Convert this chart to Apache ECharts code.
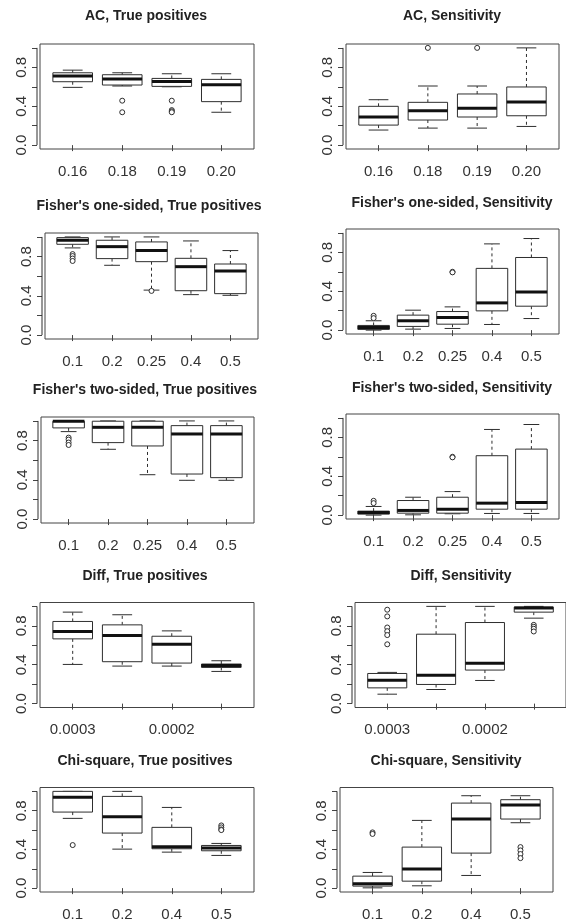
<!DOCTYPE html>
<html>
<head>
<meta charset="utf-8">
<title>True positives and sensitivity by threshold</title>
<script src="https://cdn.jsdelivr.net/npm/echarts@6/dist/echarts.min.js"></script>
<style>
  html, body { margin: 0; padding: 0; background: #ffffff; }
  #chart { width: 566px; height: 922px; }
</style>
</head>
<body>
<div id="chart"></div>
<script>
// ---- Category (threshold) labels ----
const acCats = ["0.16", "0.18", "0.19", "0.20"];
const fisherCats = ["0.1", "0.2", "0.25", "0.4", "0.5"];
const diffCats = ["0.0003", "", "0.0002", ""];
const chiCats = ["0.1", "0.2", "0.4", "0.5"];

// ---- Y tick values and labelled ticks ----
const yTicks = [0, 0.2, 0.4, 0.6, 0.8, 1.0];
const yLabelTicks = [0, 0.4, 0.8];

// ---- Box summaries per category: [min, Q1, median, Q3, max] ----
const acTpStats = [
  [0.594, 0.652, 0.710, 0.744, 0.771],
  [0.608, 0.618, 0.679, 0.724, 0.744],
  [0.600, 0.604, 0.655, 0.686, 0.734],
  [0.338, 0.447, 0.621, 0.676, 0.734]
];
const acTpOutliers = [[2, 0.457], [2, 0.338], [3, 0.457], [3, 0.360], [3, 0.348], [3, 0.338]];

const acSensStats = [
  [0.155, 0.206, 0.289, 0.399, 0.467],
  [0.175, 0.258, 0.354, 0.440, 0.608],
  [0.175, 0.289, 0.378, 0.526, 0.608],
  [0.192, 0.302, 0.443, 0.598, 1.000]
];
const acSensOutliers = [[2, 1.0], [3, 1.0]];

const f1TpStats = [
  [0.888, 0.925, 0.966, 0.993, 1.000],
  [0.711, 0.779, 0.901, 0.966, 1.000],
  [0.458, 0.748, 0.861, 0.949, 1.000],
  [0.412, 0.452, 0.697, 0.782, 0.959],
  [0.405, 0.422, 0.653, 0.724, 0.861]
];
const f1TpOutliers = [[1, 0.825], [1, 0.805], [1, 0.780], [1, 0.755], [3, 0.450]];

const f1SensStats = [
  [0.000, 0.007, 0.027, 0.048, 0.096],
  [0.010, 0.038, 0.096, 0.154, 0.205],
  [0.017, 0.061, 0.130, 0.191, 0.239],
  [0.058, 0.198, 0.280, 0.635, 0.887],
  [0.119, 0.246, 0.392, 0.747, 0.942]
];
const f1SensOutliers = [[1, 0.147], [1, 0.123], [3, 0.600], [3, 0.594]];

const f2TpStats = [
  [0.891, 0.929, 0.997, 0.997, 1.000],
  [0.711, 0.779, 0.935, 0.997, 1.000],
  [0.452, 0.745, 0.935, 0.997, 1.000],
  [0.395, 0.459, 0.867, 0.952, 1.000],
  [0.395, 0.422, 0.867, 0.952, 1.000]
];
const f2TpOutliers = [[1, 0.830], [1, 0.810], [1, 0.780], [1, 0.755]];

const f2SensStats = [
  [0.000, 0.010, 0.027, 0.041, 0.089],
  [0.003, 0.020, 0.048, 0.150, 0.184],
  [0.014, 0.020, 0.061, 0.184, 0.242],
  [0.017, 0.061, 0.123, 0.611, 0.881],
  [0.017, 0.061, 0.130, 0.679, 0.932]
];
const f2SensOutliers = [[1, 0.147], [1, 0.123], [3, 0.600], [3, 0.594]];

const diffTpStats = [
  [0.403, 0.666, 0.741, 0.845, 0.941],
  [0.386, 0.431, 0.700, 0.810, 0.914],
  [0.386, 0.417, 0.610, 0.693, 0.748],
  [0.331, 0.372, 0.393, 0.407, 0.441]
];
const diffTpOutliers = [];

const diffSensStats = [
  [0.097, 0.162, 0.241, 0.310, 0.321],
  [0.145, 0.197, 0.293, 0.714, 1.000],
  [0.238, 0.345, 0.414, 0.834, 1.000],
  [0.879, 0.941, 0.983, 0.993, 1.000]
];
const diffSensOutliers = [
  [1, 0.966], [1, 0.897], [1, 0.783], [1, 0.745], [1, 0.705], [1, 0.610],
  [4, 0.810], [4, 0.790], [4, 0.770], [4, 0.742]
];

const chiTpStats = [
  [0.721, 0.786, 0.938, 1.000, 1.000],
  [0.403, 0.569, 0.738, 0.948, 1.000],
  [0.372, 0.407, 0.428, 0.628, 0.834],
  [0.338, 0.386, 0.414, 0.441, 0.462]
];
const chiTpOutliers = [[1, 0.445], [4, 0.648], [4, 0.628], [4, 0.607], [4, 0.600]];

const chiSensStats = [
  [0.003, 0.021, 0.045, 0.124, 0.162],
  [0.024, 0.072, 0.197, 0.424, 0.700],
  [0.131, 0.362, 0.714, 0.879, 0.955],
  [0.676, 0.714, 0.859, 0.914, 0.955]
];
const chiSensOutliers = [[1, 0.576], [1, 0.560], [4, 0.424], [4, 0.390], [4, 0.352], [4, 0.310]];

// ---- Panels ----
const panels = [
  { title: "AC, True positives", cats: acCats, labelAt: [1, 2, 3, 4], stats: acTpStats, out: acTpOutliers },
  { title: "AC, Sensitivity", cats: acCats, labelAt: [1, 2, 3, 4], stats: acSensStats, out: acSensOutliers },
  { title: "Fisher's one-sided, True positives", cats: fisherCats, labelAt: [1, 2, 3, 4, 5], stats: f1TpStats, out: f1TpOutliers },
  { title: "Fisher's one-sided, Sensitivity", cats: fisherCats, labelAt: [1, 2, 3, 4, 5], stats: f1SensStats, out: f1SensOutliers },
  { title: "Fisher's two-sided, True positives", cats: fisherCats, labelAt: [1, 2, 3, 4, 5], stats: f2TpStats, out: f2TpOutliers },
  { title: "Fisher's two-sided, Sensitivity", cats: fisherCats, labelAt: [1, 2, 3, 4, 5], stats: f2SensStats, out: f2SensOutliers },
  { title: "Diff, True positives", cats: diffCats, labelAt: [1, 3], stats: diffTpStats, out: diffTpOutliers },
  { title: "Diff, Sensitivity", cats: diffCats, labelAt: [1, 3], stats: diffSensStats, out: diffSensOutliers },
  { title: "Chi-square, True positives", cats: chiCats, labelAt: [1, 2, 3, 4], stats: chiTpStats, out: chiTpOutliers },
  { title: "Chi-square, Sensitivity", cats: chiCats, labelAt: [1, 2, 3, 4], stats: chiSensStats, out: chiSensOutliers }
];

// Plot frame placement and title anchor for each panel
const frames = [
  { left: 40,  top: 44,    width: 214, height: 105, tx: 146, ty: 17 },
  { left: 346, top: 44,    width: 213, height: 105, tx: 452, ty: 17 },
  { left: 45,  top: 233,   width: 213, height: 106, tx: 149, ty: 207 },
  { left: 346, top: 229,   width: 213, height: 105, tx: 452, ty: 204 },
  { left: 41,  top: 417,   width: 213, height: 106, tx: 145, ty: 391 },
  { left: 346, top: 414,   width: 213, height: 105, tx: 452, ty: 389 },
  { left: 40,  top: 602.5, width: 214, height: 105, tx: 145, ty: 577 },
  { left: 355, top: 602.5, width: 211, height: 105, tx: 461, ty: 577 },
  { left: 40,  top: 787.5, width: 214, height: 105, tx: 145, ty: 762 },
  { left: 340, top: 787.5, width: 213, height: 105, tx: 446, ty: 762 }
];

const FONT = "'Liberation Sans', Arial, sans-serif";
const INK = '#2e2e2e';
const AXIS_OFFSET = 3;

function renderBox(params, api) {
  const x = api.value(0);
  const lo = api.value(1), q1 = api.value(2), med = api.value(3), q3 = api.value(4), hi = api.value(5);
  const half = 0.4, cap = 0.2;
  const p = (cx, v) => api.coord([cx, v]);
  const seg = (a, b) => ({ x1: a[0], y1: a[1], x2: b[0], y2: b[1] });
  const solid = { stroke: INK, lineWidth: 1, fill: null };
  const dashed = { stroke: INK, lineWidth: 1, lineDash: [3, 3], fill: null };
  const tl = p(x - half, q3), br = p(x + half, q1);
  const children = [
    { type: 'line', shape: seg(p(x, q3), p(x, hi)), style: dashed },
    { type: 'line', shape: seg(p(x, q1), p(x, lo)), style: dashed },
    { type: 'line', shape: seg(p(x - cap, hi), p(x + cap, hi)), style: solid },
    { type: 'line', shape: seg(p(x - cap, lo), p(x + cap, lo)), style: solid },
    { type: 'rect', shape: { x: tl[0], y: tl[1], width: br[0] - tl[0], height: br[1] - tl[1] },
      style: { fill: '#ffffff', stroke: INK, lineWidth: 1 } },
    { type: 'line', shape: seg(p(x - half, med), p(x + half, med)), style: { stroke: '#111', lineWidth: 3 } }
  ];
  if (params.dataIndex === 0) {
    // y axis line spanning the tick range, set just left of the frame
    const ax = params.coordSys.x - AXIS_OFFSET;
    const y0 = api.coord([x, yTicks[0]])[1];
    const y1 = api.coord([x, yTicks[yTicks.length - 1]])[1];
    children.push({ type: 'line', shape: { x1: ax, y1: y0, x2: ax, y2: y1 }, style: { stroke: INK, lineWidth: 1 } });
  }
  return { type: 'group', children };
}

const option = {
  animation: false,
  backgroundColor: '#ffffff',
  title: [], grid: [], xAxis: [], yAxis: [], series: []
};

panels.forEach((pn, i) => {
  const f = frames[i];
  const n = pn.cats.length;
  const ticks = pn.cats.map((_, k) => k + 1);
  option.title.push({
    text: pn.title, left: f.tx, top: f.ty - 8, textAlign: 'center', padding: 0,
    textStyle: { fontFamily: FONT, fontSize: 14, fontWeight: 'bold', color: '#222' }
  });
  option.grid.push({
    left: f.left, top: f.top, width: f.width, height: f.height,
    show: true, borderColor: '#444', borderWidth: 1, backgroundColor: 'transparent'
  });
  option.xAxis.push({
    gridIndex: i, type: 'value', min: 0.5 - 0.04 * n, max: n + 0.5 + 0.04 * n,
    axisLine: { show: false }, splitLine: { show: false },
    axisTick: { show: true, customValues: ticks, length: 6, lineStyle: { color: '#444' } },
    axisLabel: {
      customValues: pn.labelAt, margin: 15, fontSize: 15, color: '#333', fontFamily: FONT,
      formatter: v => pn.cats[Math.round(v) - 1]
    }
  });
  option.yAxis.push({
    gridIndex: i, type: 'value', min: -0.04, max: 1.04, offset: AXIS_OFFSET,
    axisLine: { show: false }, splitLine: { show: false },
    axisTick: { show: true, customValues: yTicks, length: 5, lineStyle: { color: '#444' } },
    axisLabel: {
      customValues: yLabelTicks, rotate: 90, margin: 8, fontSize: 15, color: '#333', fontFamily: FONT,
      formatter: v => v.toFixed(1)
    }
  });
  option.series.push({
    type: 'custom', xAxisIndex: i, yAxisIndex: i, silent: true, clip: false,
    renderItem: renderBox,
    encode: { x: 0, y: [1, 2, 3, 4, 5] },
    data: pn.stats.map((s, k) => [k + 1].concat(s))
  });
  option.series.push({
    type: 'scatter', xAxisIndex: i, yAxisIndex: i, silent: true, z: 5,
    symbol: 'circle', symbolSize: 5,
    itemStyle: { color: '#ffffff', borderColor: INK, borderWidth: 1, opacity: 1 },
    data: pn.out
  });
});

const chart = echarts.init(document.getElementById('chart'), null, { renderer: 'canvas' });
chart.setOption(option);
</script>
</body>
</html>
